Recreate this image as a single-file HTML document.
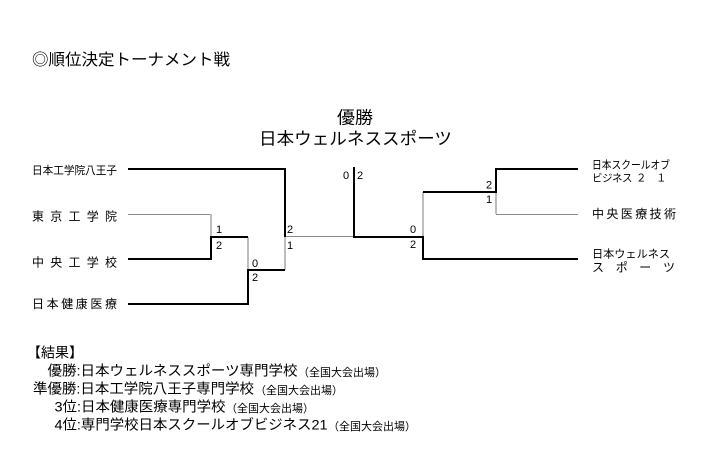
<!DOCTYPE html>
<html lang="ja">
<head>
<meta charset="utf-8">
<style>
  html,body{margin:0;padding:0;background:#fff;}
  svg{display:block;}
  text{font-family:"Liberation Sans","Noto Sans CJK JP",sans-serif;fill:#000;}
  .d{font-family:"Liberation Sans",sans-serif;font-size:11px;}
</style>
</head>
<body>
<svg width="710" height="454" viewBox="0 0 710 454" xmlns="http://www.w3.org/2000/svg">
  <rect x="0" y="0" width="710" height="454" fill="#fff"/>

  <!-- Title -->
  <text x="32" y="65" font-size="16" textLength="198" lengthAdjust="spacingAndGlyphs">◎順位決定トーナメント戦</text>

  <!-- Winner -->
  <text x="337" y="123.5" font-size="17" textLength="36" lengthAdjust="spacingAndGlyphs">優勝</text>
  <text x="259" y="144.5" font-size="17" textLength="193" lengthAdjust="spacingAndGlyphs">日本ウェルネススポーツ</text>

  <!-- Left labels -->
  <text x="32" y="174.2" font-size="11" textLength="85" lengthAdjust="spacingAndGlyphs">日本工学院八王子</text>
  <text x="32 50.25 68.5 86.75 105" y="220.5" font-size="12">東京工学院</text>
  <text x="32 50.25 68.5 86.75 105" y="266.5" font-size="12">中央工学校</text>
  <text x="32 46.6 61.2 75.8 90.4 105" y="308" font-size="12">日本健康医療</text>

  <!-- Right labels -->
  <text x="592" y="168.7" font-size="11" textLength="78" lengthAdjust="spacingAndGlyphs">日本スクールオブ</text>
  <text x="592 602 612 622 636 656" y="181.7" font-size="10.5">ビジネス２１</text>
  <text x="592 606.4 620.8 635.2 649.6 664" y="218" font-size="12">中央医療技術</text>
  <text x="592" y="257.5" font-size="11" textLength="78" lengthAdjust="spacingAndGlyphs">日本ウェルネス</text>
  <text x="592 615.7 639.3 663" y="271.5" font-size="12">スポーツ</text>

  <!-- Thin gray horizontals -->
  <g stroke="#8a8a8a" stroke-width="1" fill="none">
    <line x1="128" y1="214.5" x2="211" y2="214.5"/>
    <line x1="285" y1="236.5" x2="354" y2="236.5"/>
    <line x1="496" y1="214.5" x2="578" y2="214.5"/>
  </g>

  <!-- Light gray verticals (losing side) -->
  <g stroke="#bdbdbd" stroke-width="2" fill="none">
    <line x1="211" y1="214" x2="211" y2="237"/>
    <line x1="248" y1="237" x2="248" y2="270"/>
    <line x1="285" y1="237" x2="285" y2="270"/>
    <line x1="423" y1="192" x2="423" y2="237"/>
    <line x1="496" y1="192" x2="496" y2="214"/>
  </g>

  <!-- Thick winner paths -->
  <g stroke="#000" stroke-width="2" fill="none" stroke-linejoin="miter" stroke-linecap="butt">
    <polyline points="128,169 285,169 285,237"/>
    <polyline points="128,259 211,259 211,237 248,237"/>
    <polyline points="128,304 248,304 248,270 285,270"/>
    <polyline points="354,167 354,237 423,237 423,259 578,259"/>
    <polyline points="423,192 496,192 496,169 578,169"/>
  </g>

  <!-- Scores -->
  <text class="d" x="216" y="233">1</text>
  <text class="d" x="216" y="249">2</text>
  <text class="d" x="252" y="267">0</text>
  <text class="d" x="252" y="281">2</text>
  <text class="d" x="287" y="233">2</text>
  <text class="d" x="287" y="249">1</text>
  <text class="d" x="343" y="179">0</text>
  <text class="d" x="357" y="179">2</text>
  <text class="d" x="410" y="233">0</text>
  <text class="d" x="410" y="248">2</text>
  <text class="d" x="486" y="188.5">2</text>
  <text class="d" x="486" y="203">1</text>

  <!-- Results -->
  <text x="27" y="357.5" font-size="14">【結果】</text>
  <text x="47.5" y="375.5" font-size="14" textLength="250" lengthAdjust="spacingAndGlyphs">優勝:日本ウェルネススポーツ専門学校</text>
  <text x="298" y="376" font-size="11">（全国大会出場）</text>
  <text x="33" y="393.5" font-size="14" textLength="221" lengthAdjust="spacingAndGlyphs">準優勝:日本工学院八王子専門学校</text>
  <text x="255" y="394" font-size="11">（全国大会出場）</text>
  <text x="54.5" y="411.5" font-size="14" textLength="171" lengthAdjust="spacingAndGlyphs">3位:日本健康医療専門学校</text>
  <text x="226" y="412" font-size="11">（全国大会出場）</text>
  <text x="54.5" y="429.5" font-size="14" textLength="273" lengthAdjust="spacingAndGlyphs">4位:専門学校日本スクールオブビジネス21</text>
  <text x="328" y="430" font-size="11">（全国大会出場）</text>
</svg>
</body>
</html>
